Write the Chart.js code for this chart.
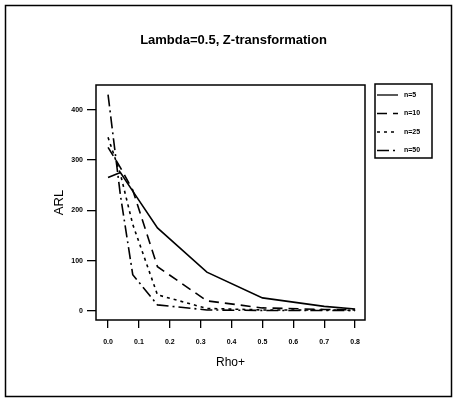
<!DOCTYPE html>
<html>
<head>
<meta charset="utf-8">
<script src="https://cdn.jsdelivr.net/npm/chart.js@4.4.1/dist/chart.umd.min.js"></script>
<style>
  html, body { margin: 0; padding: 0; background: #fff; }
  #wrap { width: 458px; height: 402px; position: relative; }
</style>
</head>
<body>
<div id="wrap"><canvas id="arlChart" width="458" height="402"></canvas></div>
<script>
// values
const rhoValues = [0, 0.04, 0.08, 0.16, 0.32, 0.5, 0.7, 0.8];
const arlN5 = [265, 275, 238, 165, 77, 26, 9, 4];
const arlN10 = [325, 285, 240, 88, 20, 6, 3, 2];
const arlN25 = [345, 272, 172, 32, 5, 2, 2, 1];
const arlN50 = [430, 230, 72, 12, 2, 1, 1, 1];
const seriesLabels = ['n=5', 'n=10', 'n=25', 'n=50'];
const xTickValues = [0, 0.1, 0.2, 0.3, 0.4, 0.5, 0.6, 0.7, 0.8];
const yTickValues = [0, 100, 200, 300, 400];
const chartTitle = 'Lambda=0.5, Z-transformation';

const dashes = [[], [10, 6], [3, 4], [12, 4, 2, 4]];

function toPoints(arr) {
    return rhoValues.map((r, i) => ({ x: r, y: arr[i] }));
}

const seriesData = [arlN5, arlN10, arlN25, arlN50];

// frame, title and boxed legend, drawn the way the old S-plus figure looks
const decorations = {
    id: 'decorations',
    afterDraw(chart) {
        const ctx = chart.ctx;
        const a = chart.chartArea;
        ctx.save();
        ctx.strokeStyle = '#000';
        ctx.lineWidth = 1.5;
        ctx.strokeRect(a.left, a.top, a.right - a.left, a.bottom - a.top);
        // outer figure frame
        ctx.strokeRect(5.5, 5.5, 446, 391);

        ctx.fillStyle = '#000';
        ctx.font = 'bold 13px "Liberation Sans", Arial, sans-serif';
        ctx.textAlign = 'center';
        ctx.textBaseline = 'middle';
        ctx.fillText(chartTitle, (a.left + a.right) / 2 + 3, 40);

        // legend box
        const lx = 375, ly = 84, lw = 57, lh = 74;
        ctx.lineWidth = 1.5;
        ctx.strokeRect(lx, ly, lw, lh);
        ctx.font = 'bold 7px "Liberation Sans", Arial, sans-serif';
        ctx.textAlign = 'left';
        chart.data.datasets.forEach((ds, i) => {
            const y = 95 + i * 18.5;
            ctx.beginPath();
            ctx.setLineDash(ds.borderDash || []);
            ctx.lineWidth = 1.3;
            ctx.moveTo(377, y);
            ctx.lineTo(398, y);
            ctx.stroke();
            ctx.setLineDash([]);
            ctx.fillText(ds.label, 404, y);
        });
        ctx.restore();
    }
};

new Chart(document.getElementById('arlChart'), {
    type: 'line',
    data: {
        datasets: seriesData.map((arr, i) => ({
            label: seriesLabels[i],
            data: toPoints(arr),
            borderColor: '#000',
            borderWidth: 1.6,
            borderDash: dashes[i],
            pointRadius: 0,
            tension: 0,
            fill: false
        }))
    },
    options: {
        responsive: false,
        animation: false,
        layout: { padding: { left: 52, right: 93, top: 85, bottom: 32 } },
        plugins: {
            legend: { display: false },
            title: { display: false },
            tooltip: { enabled: false }
        },
        scales: {
            x: {
                type: 'linear',
                min: -0.039,
                max: 0.832,
                afterBuildTicks(scale) {
                    scale.ticks = xTickValues.map(v => ({ value: v }));
                },
                afterFit(scale) { scale.height = 50; },
                border: { display: false },
                grid: { display: true, drawOnChartArea: false, drawTicks: true, tickLength: 8, color: '#000', lineWidth: 1.3 },
                ticks: {
                    color: '#000',
                    padding: 10,
                    maxRotation: 0,
                    font: { family: '"Liberation Sans", Arial, sans-serif', size: 7, weight: 'bold' },
                    callback: v => v.toFixed(1)
                },
                title: {
                    display: true,
                    text: 'Rho+',
                    color: '#000',
                    padding: 0,
                    font: { family: '"Liberation Sans", Arial, sans-serif', size: 12 }
                }
            },
            y: {
                type: 'linear',
                min: -18,
                max: 449,
                afterBuildTicks(scale) {
                    scale.ticks = yTickValues.map(v => ({ value: v }));
                },
                afterFit(scale) { scale.width = 44; },
                border: { display: false },
                grid: { display: true, drawOnChartArea: false, drawTicks: true, tickLength: 9, color: '#000', lineWidth: 1.3 },
                ticks: {
                    color: '#000',
                    padding: 4,
                    font: { family: '"Liberation Sans", Arial, sans-serif', size: 7, weight: 'bold' }
                },
                title: {
                    display: true,
                    text: 'ARL',
                    color: '#000',
                    padding: 0,
                    font: { family: '"Liberation Sans", Arial, sans-serif', size: 13 }
                }
            }
        }
    },
    plugins: [decorations]
});
</script>
</body>
</html>
